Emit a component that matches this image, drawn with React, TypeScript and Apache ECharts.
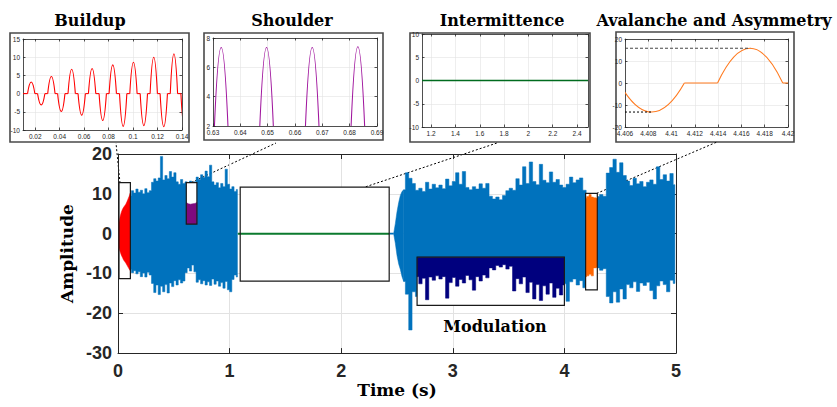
import React, { useEffect, useRef } from "react";
import * as echarts from "echarts";

// ---------------- main signal (envelope) ----------------
const seg1Start = 0.11;
const seg1Step = 0.02;
const seg1Upper = [9.5, 10.8, 10.2, 11.2, 10.4, 10.9, 10.0, 11.3, 10.3, 10.8, 12.9, 13.8, 13.2, 14.0, 19.4, 13.5, 14.6, 13.8, 15.6, 14.2, 15.3, 13.0, 12.4, 13.6, 12.6, 13.0, 12.5, 13.2, 12.8, 13.0, 14.2, 13.6, 14.8, 14.1, 15.7, 14.3, 17.2, 13.0, 12.2, 12.8, 11.5, 12.6, 11.8, 16.2, 12.4, 11.2, 11.8, 10.6, 11.1];
const seg1Lower = [-9.0, -9.8, -9.3, -10.1, -9.6, -10.8, -9.9, -10.9, -9.7, -10.4, -12.5, -14.8, -12.9, -15.3, -13.2, -14.6, -12.8, -14.9, -12.4, -13.3, -11.8, -12.9, -11.6, -12.4, -11.9, -9.8, -8.6, -9.4, -7.9, -9.6, -12.2, -11.6, -12.6, -11.8, -12.9, -12.1, -13.0, -11.4, -12.7, -11.9, -13.2, -12.3, -13.7, -12.0, -14.1, -14.6, -11.5, -10.4, -10.9];

// signal onset after the pause (smooth ramp)
const onsetTimes = [2.47, 2.485, 2.5, 2.515, 2.53, 2.545, 2.56];
const onsetUpper = [0, 2.5, 5.5, 7.8, 9.6, 10.6, 11.0];
const onsetLower = [0, -2.4, -5.5, -7.6, -9.0, -10.8, -12.0];

const seg2Start = 2.56;
const seg2Step = 0.03;
const seg2Upper = [11.0, 15.3, 13.9, 12.6, 10.9, 11.4, 10.6, 12.9, 11.2, 12.4, 11.5, 12.2, 11.3, 13.7, 12.0, 13.1, 15.3, 12.4, 15.6, 11.6, 11.0, 11.8, 11.2, 12.5, 11.4, 12.6, 9.4, 8.7, 9.2, 8.5, 9.6, 10.8, 11.4, 10.9, 13.8, 12.2, 16.8, 12.6, 18.0, 13.1, 12.3, 17.4, 13.4, 12.8, 15.5, 12.9, 13.6, 12.2, 11.6, 12.4, 14.2, 12.8, 13.5, 14.0, 10.9, 9.8, 10.0, 9.8, 9.3, 9.8, 9.4, 15.2, 16.6, 18.7, 15.4, 17.8, 14.6, 13.2, 12.1, 13.9, 12.5, 13.1, 11.8, 12.9, 13.5, 12.4, 16.8, 13.6, 14.8, 13.2, 15.1, 12.3];
const seg2Lower = [-12.0, -15.2, -24.2, -14.6, -15.8, -12.4, -11.8, -13.1, -12.2, -11.6, -12.9, -12.3, -11.7, -13.4, -12.1, -12.6, -11.9, -13.0, -12.2, -11.5, -12.8, -12.0, -11.4, -12.7, -11.9, -12.3, -10.6, -10.1, -10.4, -9.8, -10.5, -11.2, -12.4, -11.6, -13.2, -12.1, -12.8, -13.5, -12.4, -13.8, -12.6, -13.4, -12.2, -13.7, -12.5, -13.1, -12.3, -13.0, -12.6, -17.0, -12.1, -11.4, -12.9, -11.8, -13.6, -9.5, -10.0, -9.2, -8.6, -9.2, -8.8, -15.8, -17.4, -14.6, -17.2, -13.9, -16.4, -12.8, -13.6, -12.1, -14.5, -12.4, -13.0, -12.2, -14.3, -16.4, -13.1, -11.9, -12.8, -14.6, -11.7, -12.5];

// flat parts
const intermittenceLine = [[1.074, 0], [2.43, 0]];
const resumeLine = [[2.43, 0], [2.47, 0]];

// highlighted parts in the main plot
const buildupTimes = [0.009, 0.02, 0.03, 0.04, 0.05, 0.06, 0.07, 0.08, 0.09, 0.1, 0.11];
const buildupUpper = [2.8, 4.4, 5.4, 6.1, 6.6, 7.0, 7.4, 8.0, 8.7, 9.4, 10.2];
const buildupLower = [-3.6, -4.6, -5.4, -6.0, -6.6, -7.0, -7.4, -7.9, -8.4, -8.9, -9.3];

const shoulderTimes = [0.612, 0.63, 0.65, 0.67, 0.69, 0.707];
const shoulderUpper = [7.8, 7.5, 7.4, 7.5, 7.6, 7.8];
const shoulderLower = [2.4, 2.4, 2.4, 2.4, 2.4, 2.4];

const modulationStart = 2.68;
const modulationStep = 0.03;
const modulationTop = -5.9;
const modulationBottom = [-10.8, -12.6, -11.2, -16.6, -10.9, -11.7, -10.6, -11.4, -10.8, -16.2, -12.3, -11.0, -13.2, -11.5, -12.4, -10.5, -11.6, -14.2, -10.8, -11.9, -10.4, -11.1, -8.6, -9.1, -8.0, -8.4, -7.8, -8.9, -8.2, -14.4, -11.3, -12.6, -10.9, -14.8, -12.2, -16.4, -12.8, -16.8, -13.1, -15.2, -12.4, -16.0, -13.7, -15.4, -12.9];

const avalancheTimes = [4.19, 4.21, 4.23, 4.25, 4.27, 4.295];
const avalancheUpper = [8.9, 9.3, 9.8, 9.2, 9.0, 8.9];
const avalancheLower = [-10.8, -10.6, -10.2, -10.6, -8.6, -8.5];

// frames around the highlighted parts
const boxX0 = [0.009, 0.612, 1.095, 2.68, 4.19];
const boxX1 = [0.111, 0.707, 2.43, 4.0, 4.295];
const boxY0 = [-11.3, 2.4, -11.9, -18.0, -14.1];
const boxY1 = [12.8, 12.8, 11.7, -5.9, 10.1];

// ---------------- insets ----------------
const buildupPulseCenter = [0.0167, 0.0249, 0.0332, 0.0413, 0.0498, 0.0580, 0.0665, 0.0752, 0.0834, 0.0919, 0.1003, 0.1088, 0.1169, 0.1251, 0.1334, 0.1421];
const buildupPulsePeak = [3.2, -3.1, 4.7, -4.9, 6.7, -5.9, 6.9, -7.4, 7.9, -9.0, 8.6, -8.8, 10.0, -9.1, 10.9, -9.4];
const buildupHalfWidth = 0.003;

const shoulderPulseCenter = [0.633, 0.6496, 0.6663, 0.683];
const shoulderPulsePeak = [7.35, 7.35, 7.35, 7.4];
const shoulderHalfWidth = 0.0029;

const intermittenceInsetLine = [[1.125, 0], [2.49, 0]];

const avalanchePulseCenter = [4.4083, 4.41675];
const avalanchePulsePeak = [-13.2, 15.8];
const avalancheHalfWidth = 0.0028;
const avalancheMaxLine = [[4.406, 15.8], [4.41675, 15.8]];
const avalancheMinLine = [[4.406, -13.2], [4.4083, -13.2]];

// ---------------- colors ----------------
const BLUE = "#0072BD";
const RED = "#FF0000";
const PURPLE = "#7E0A7E";
const GREEN = "#0B7A2E";
const NAVY = "#00007E";
const ORANGE = "#FF6600";
const AXIS = "#262626";
const GRIDLINE = "#E2E2E2";

const SERIF = '"DejaVu Serif", "Liberation Serif", serif';
const SANS = '"Liberation Sans", Arial, sans-serif';
const NARROW = '"Liberation Sans Narrow", "Liberation Sans", Arial, sans-serif';
const TITLE_FONT = `bold 16px ${SERIF}`;

function sampleTimes(start: number, step: number, n: number) {
  const out: number[] = [];
  for (let i = 0; i < n; i++) out.push(Math.round((start + i * step) * 1000) / 1000);
  return out;
}

function bandSeries(times: number[], upper: number[], lower: number[], color: string, z: number, stepped: boolean) {
  const data = times.map((t, i) => [t, upper[i], lower[i]]);
  const n = data.length;
  const edges = (i: number): [number, number] => {
    const l = i === 0 ? data[0][0] : (data[i - 1][0] + data[i][0]) / 2;
    const r = i === n - 1 ? data[n - 1][0] : (data[i][0] + data[i + 1][0]) / 2;
    return [l, r];
  };
  return {
    type: "custom",
    xAxisIndex: 0,
    yAxisIndex: 0,
    clip: true,
    silent: true,
    z,
    encode: { x: 0, y: [1, 2] },
    data,
    renderItem: (params: any, api: any) => {
      if (params.dataIndex !== 0) return null;
      let top: number[][] = [];
      let bot: number[][] = [];
      if (stepped) {
        data.forEach((d, i) => {
          const [l, r] = edges(i);
          top.push(api.coord([l, d[1]]), api.coord([r, d[1]]));
          bot.push(api.coord([l, d[2]]), api.coord([r, d[2]]));
        });
      } else {
        top = data.map((d) => api.coord([d[0], d[1]]));
        bot = data.map((d) => api.coord([d[0], d[2]]));
      }
      return {
        type: "polygon",
        shape: { points: top.concat(bot.reverse()) },
        style: { fill: color, stroke: color, lineWidth: 0.5 },
      };
    },
  };
}

function boxSeries(filled: boolean, z: number) {
  const data = boxX0.map((x0, i) => [x0, boxY0[i], boxX1[i], boxY1[i]]);
  return {
    type: "custom",
    xAxisIndex: 0,
    yAxisIndex: 0,
    silent: true,
    z,
    encode: { x: [0, 2], y: [1, 3] },
    data,
    renderItem: (params: any, api: any) => {
      const p0 = api.coord([api.value(0), api.value(3)]);
      const p1 = api.coord([api.value(2), api.value(1)]);
      return {
        type: "rect",
        shape: { x: p0[0], y: p0[1], width: p1[0] - p0[0], height: p1[1] - p0[1] },
        style: filled ? { fill: "#fff" } : { fill: "none", stroke: "#1a1a1a", lineWidth: 1.2 },
      };
    },
  };
}

function pulseSeries(axisIndex: number, xmin: number, xmax: number, centers: number[], peaks: number[], hw: number, color: string) {
  const data = centers.map((c, i) => [c, peaks[i]]);
  return {
    type: "custom",
    xAxisIndex: axisIndex,
    yAxisIndex: axisIndex,
    clip: true,
    silent: true,
    encode: { x: 0, y: 1 },
    data,
    renderItem: (params: any, api: any) => {
      if (params.dataIndex !== 0) return null;
      const children: any[] = [];
      const style = { stroke: color, lineWidth: 1.1, fill: "none" };
      let prev = xmin;
      centers.forEach((c, i) => {
        const s = c - hw;
        const e = c + hw;
        if (s > prev) {
          const a = api.coord([prev, 0]);
          const b = api.coord([s, 0]);
          children.push({ type: "line", shape: { x1: a[0], y1: a[1], x2: b[0], y2: b[1] }, style: { ...style } });
        }
        const a = api.coord([s, 0]);
        const b = api.coord([e, 0]);
        const cp = api.coord([c, 2 * peaks[i]]);
        children.push({
          type: "bezierCurve",
          shape: { x1: a[0], y1: a[1], x2: b[0], y2: b[1], cpx1: cp[0], cpy1: cp[1] },
          style: { ...style },
        });
        prev = e;
      });
      if (prev < xmax) {
        const a = api.coord([prev, 0]);
        const b = api.coord([xmax, 0]);
        children.push({ type: "line", shape: { x1: a[0], y1: a[1], x2: b[0], y2: b[1] }, style: { ...style } });
      }
      return { type: "group", children };
    },
  };
}

function xAxes(gridIndex: number, min: number, max: number, extra: any, small: boolean) {
  const lineStyle = { color: AXIS, width: small ? 0.8 : 1 };
  const bottom = {
    type: "value",
    gridIndex,
    min,
    max,
    position: "bottom",
    axisLine: { show: true, onZero: false, lineStyle },
    axisTick: { show: true, inside: true, length: small ? 2.5 : 5, lineStyle },
    axisLabel: small
      ? { fontSize: 6.5, color: AXIS, fontFamily: NARROW, margin: 3 }
      : { fontSize: 18, fontWeight: "bold", color: AXIS, fontFamily: SANS, margin: 9 },
    splitLine: { show: true, lineStyle: { color: GRIDLINE, width: small ? 0.6 : 1 } },
    ...extra,
  };
  const top = {
    type: "value",
    gridIndex,
    min,
    max,
    interval: extra.interval,
    splitNumber: extra.splitNumber,
    position: "top",
    axisLine: { show: true, onZero: false, lineStyle },
    axisTick: { show: true, inside: true, length: small ? 2.5 : 5, lineStyle },
    axisLabel: { show: false },
    splitLine: { show: false },
  };
  return [bottom, top];
}

function yAxes(gridIndex: number, min: number, max: number, interval: number, extra: any, small: boolean) {
  const lineStyle = { color: AXIS, width: small ? 0.8 : 1 };
  const left = {
    type: "value",
    gridIndex,
    min,
    max,
    interval,
    position: "left",
    axisLine: { show: true, onZero: false, lineStyle },
    axisTick: { show: true, inside: true, length: small ? 2.5 : 5, lineStyle },
    axisLabel: small
      ? { fontSize: 6.5, color: AXIS, fontFamily: NARROW, margin: 3 }
      : { fontSize: 18, fontWeight: "bold", color: AXIS, fontFamily: SANS, margin: 6 },
    splitLine: { show: true, lineStyle: { color: GRIDLINE, width: small ? 0.6 : 1 } },
    ...extra,
  };
  const right = {
    type: "value",
    gridIndex,
    min,
    max,
    interval,
    position: "right",
    axisLine: { show: true, onZero: false, lineStyle },
    axisTick: { show: true, inside: true, length: small ? 2.5 : 5, lineStyle },
    axisLabel: { show: false },
    splitLine: { show: false },
  };
  return [left, right];
}

export default function App() {
  const ref = useRef<HTMLDivElement>(null);

  useEffect(() => {
    if (!ref.current) return;
    const chart = echarts.init(ref.current, undefined, { renderer: "svg" });

    const seg1Times = sampleTimes(seg1Start, seg1Step, seg1Upper.length);
    const seg2Times = sampleTimes(seg2Start, seg2Step, seg2Upper.length);
    const modTimes = sampleTimes(modulationStart, modulationStep, modulationBottom.length);
    const modTopArr = modTimes.map(() => modulationTop);

    const nameStyle = { fontFamily: SERIF, fontWeight: "bold", fontSize: 17, color: "#000" };
    const titleStyle = (text: string) => ({ text, font: TITLE_FONT, fill: "#000", textAlign: "center", textVerticalAlign: "middle" });

    const option: any = {
      animation: false,
      backgroundColor: "#fff",
      grid: [
        { left: 118, top: 154, width: 558, height: 207 },
        { left: 23, top: 39, width: 159, height: 91 },
        { left: 213, top: 38, width: 164, height: 88 },
        { left: 422, top: 34, width: 166, height: 93 },
        { left: 625, top: 39, width: 163, height: 88 },
      ],
      xAxis: [
        ...xAxes(0, 0, 5, { interval: 1, name: "Time (s)", nameLocation: "middle", nameGap: 28, nameTextStyle: nameStyle }, false),
        ...xAxes(1, 0.01, 0.14, { splitNumber: 6, axisLabel: { fontSize: 6.5, color: AXIS, fontFamily: NARROW, margin: 3, showMinLabel: false } }, true),
        ...xAxes(2, 0.63, 0.69, { splitNumber: 6 }, true),
        ...xAxes(3, 1.125, 2.49, { splitNumber: 7, axisLabel: { fontSize: 6.5, color: AXIS, fontFamily: NARROW, margin: 3, showMinLabel: false, showMaxLabel: false } }, true),
        ...xAxes(4, 4.406, 4.42, { splitNumber: 7 }, true),
      ],
      yAxis: [
        ...yAxes(0, -30, 20, 10, { name: "Amplitude", nameLocation: "middle", nameGap: 40, nameRotate: 90, nameTextStyle: nameStyle }, false),
        ...yAxes(1, -10, 15, 5, {}, true),
        ...yAxes(2, 2, 8, 2, {}, true),
        ...yAxes(3, -10, 10, 5, {}, true),
        ...yAxes(4, -20, 20, 10, {}, true),
      ],
      graphic: [
        // inset frames
        { type: "rect", shape: { x: 10, y: 33, width: 179, height: 109 }, style: { fill: "none", stroke: "#4a4a4a", lineWidth: 1.6 } },
        { type: "rect", shape: { x: 204, y: 33, width: 179, height: 107 }, style: { fill: "none", stroke: "#4a4a4a", lineWidth: 1.6 } },
        { type: "rect", shape: { x: 410, y: 33, width: 180, height: 109 }, style: { fill: "none", stroke: "#4a4a4a", lineWidth: 1.6 } },
        { type: "rect", shape: { x: 616, y: 32, width: 178, height: 110 }, style: { fill: "none", stroke: "#4a4a4a", lineWidth: 1.6 } },
        // titles
        { type: "text", x: 90, y: 20, style: titleStyle("Buildup") },
        { type: "text", x: 292, y: 20, style: titleStyle("Shoulder") },
        { type: "text", x: 502, y: 20, style: titleStyle("Intermittence") },
        { type: "text", x: 714, y: 20, style: titleStyle("Avalanche and Asymmetry") },
        { type: "text", x: 495, y: 326, style: titleStyle("Modulation") },
        // connectors
        { type: "line", shape: { x1: 120, y1: 183, x2: 116, y2: 143 }, style: { stroke: "#000", lineDash: [2, 2], lineWidth: 1 } },
        { type: "line", shape: { x1: 188, y1: 184, x2: 276, y2: 143 }, style: { stroke: "#000", lineDash: [2, 2], lineWidth: 1 } },
        { type: "line", shape: { x1: 362, y1: 188, x2: 497, y2: 143 }, style: { stroke: "#000", lineDash: [2, 2], lineWidth: 1 } },
        { type: "line", shape: { x1: 593, y1: 195, x2: 717, y2: 142 }, style: { stroke: "#000", lineDash: [2, 2], lineWidth: 1 } },
      ],
      series: [
        bandSeries(seg1Times, seg1Upper, seg1Lower, BLUE, 2, true),
        {
          type: "line", xAxisIndex: 0, yAxisIndex: 0, data: resumeLine, showSymbol: false, silent: true, z: 2,
          lineStyle: { color: BLUE, width: 1.6 },
        },
        bandSeries(onsetTimes, onsetUpper, onsetLower, BLUE, 2, false),
        bandSeries(seg2Times, seg2Upper, seg2Lower, BLUE, 2, true),
        boxSeries(true, 3),
        bandSeries(buildupTimes, buildupUpper, buildupLower, RED, 4, false),
        bandSeries(shoulderTimes, shoulderUpper, shoulderLower, PURPLE, 4, false),
        bandSeries(modTimes, modTopArr, modulationBottom, NAVY, 4, true),
        bandSeries(avalancheTimes, avalancheUpper, avalancheLower, ORANGE, 4, true),
        {
          type: "line", xAxisIndex: 0, yAxisIndex: 0, data: intermittenceLine, showSymbol: false, silent: true, z: 5,
          lineStyle: { color: GREEN, width: 2 },
        },
        boxSeries(false, 6),
        // insets
        pulseSeries(2, 0.01, 0.14, buildupPulseCenter, buildupPulsePeak, buildupHalfWidth, RED),
        pulseSeries(4, 0.63, 0.69, shoulderPulseCenter, shoulderPulsePeak, shoulderHalfWidth, "#A0169E"),
        {
          type: "line", xAxisIndex: 6, yAxisIndex: 6, data: intermittenceInsetLine, showSymbol: false, silent: true,
          lineStyle: { color: "#006B1E", width: 1.3 },
        },
        pulseSeries(8, 4.406, 4.42, avalanchePulseCenter, avalanchePulsePeak, avalancheHalfWidth, "#FF7A1F"),
        {
          type: "line", xAxisIndex: 8, yAxisIndex: 8, data: avalancheMaxLine, showSymbol: false, silent: true,
          lineStyle: { color: "#444", width: 1, type: [3, 2] },
        },
        {
          type: "line", xAxisIndex: 8, yAxisIndex: 8, data: avalancheMinLine, showSymbol: false, silent: true,
          lineStyle: { color: "#000", width: 1, type: [2, 2] },
        },
      ],
    };

    chart.setOption(option);
    return () => chart.dispose();
  }, []);

  return <div ref={ref} style={{ position: "fixed", left: 0, top: 0, width: 837, height: 407 }} />;
}
